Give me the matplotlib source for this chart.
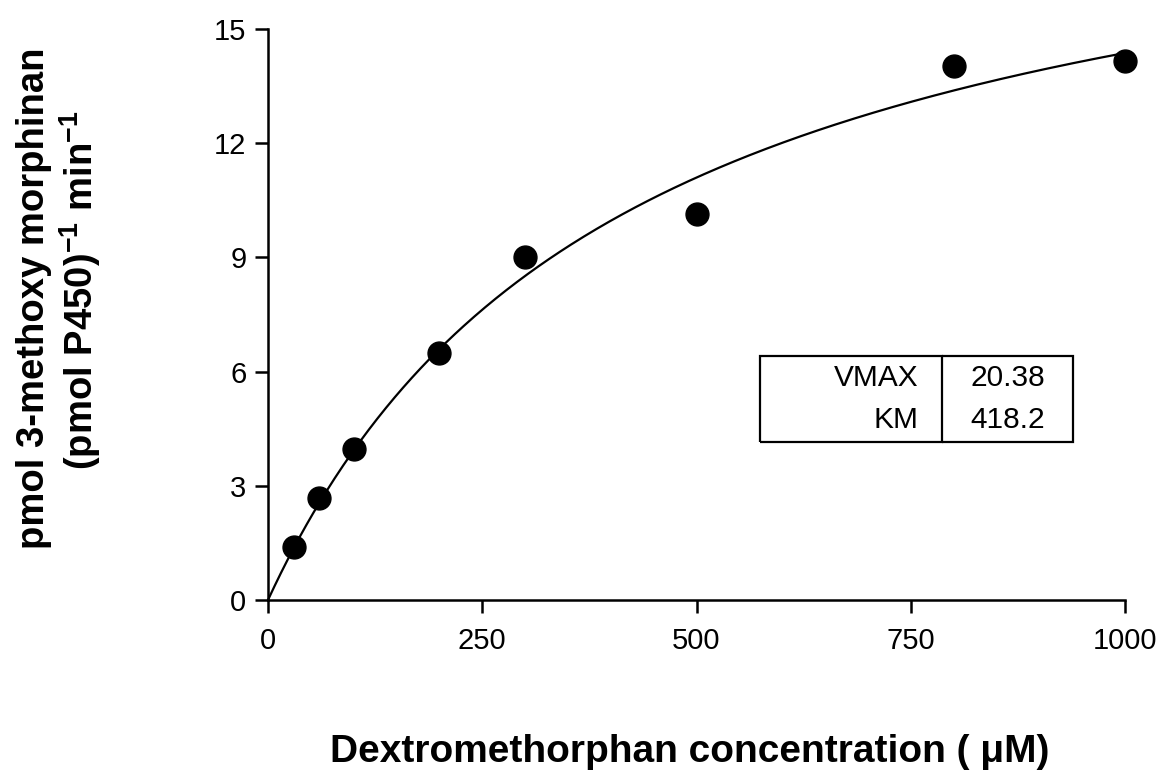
import numpy as np
import matplotlib
matplotlib.use("Agg")
import matplotlib.pyplot as plt

plt.rcParams['font.family'] = ['Liberation Sans', 'DejaVu Sans']
plt.rcParams['mathtext.fontset'] = 'custom'
plt.rcParams['mathtext.rm'] = 'Liberation Sans'
plt.rcParams['mathtext.bf'] = 'Liberation Sans:bold'
plt.rcParams['mathtext.it'] = 'Liberation Sans:italic'

# Data
concentration = [30, 60, 100, 200, 300, 500, 800, 1000]
rate = [1.4, 2.67, 3.97, 6.48, 9.0, 10.13, 14.02, 14.17]
x_ticks = [0, 250, 500, 750, 1000]
y_ticks = [0, 3, 6, 9, 12, 15]
param_names = ["VMAX", "KM"]
param_values = ["20.38", "418.2"]
vmax = 20.38
km = 418.2

fig = plt.figure(figsize=(11.63, 7.76), dpi=100)
ax = fig.add_axes([268/1163, 1 - 600/776, (1125-268)/1163, (600-29)/776])

# Michaelis-Menten fit curve from the fitted parameters shown in the table
xs = np.linspace(0, 1000, 400)
ax.plot(xs, vmax * xs / (km + xs), color='black', lw=1.6, clip_on=False, zorder=2)
ax.plot(concentration, rate, 'o', color='black', ms=16.5, clip_on=False, zorder=3)

ax.set_xlim(0, 1000)
ax.set_ylim(0, 15)
ax.set_xticks(x_ticks)
ax.set_yticks(y_ticks)
for s in ['top', 'right']:
    ax.spines[s].set_visible(False)
for s in ['left', 'bottom']:
    ax.spines[s].set_linewidth(1.8)
ax.tick_params(axis='both', length=9.5, width=1.8, labelsize=21, direction='out')
ax.tick_params(axis='y', pad=6)
ax.tick_params(axis='x', pad=10)

# Parameter table
tb = ax.table(cellText=[[n, v] for n, v in zip(param_names, param_values)],
              bbox=[(760-268)/857, (600-442)/571, (1073-760)/857, (442-356)/571],
              colWidths=[(942-760), (1073-942)])
tb.auto_set_font_size(False)
for (r, c), cell in tb.get_celld().items():
    cell.set_fontsize(21.5)
    cell.set_linewidth(1.6)
    if c == 0:
        cell.visible_edges = 'LTR' if r == 0 else 'LBR'
        cell.get_text().set_ha('right')
        cell.PAD = 0.13
    else:
        cell.visible_edges = 'TR' if r == 0 else 'BR'
        cell.get_text().set_ha('center')
    cell.set_text_props(va='center')

fig.text(690/1163, 1 - 752/776, 'Dextromethorphan concentration ( μM)',
         ha='center', va='center', fontsize=28, fontweight='bold')
fig.text(34/1163, 1 - 298/776, 'pmol 3-methoxy morphinan', rotation=90,
         ha='center', va='center', fontsize=27.5, fontweight='bold')
fig.text(80/1163, 1 - 290/776, '(pmol P450)$^{\\mathbf{-1}}$ min$^{\\mathbf{-1}}$', rotation=90,
         ha='center', va='center', fontsize=27.5, fontweight='bold')

fig.savefig('out.png', dpi=100)
